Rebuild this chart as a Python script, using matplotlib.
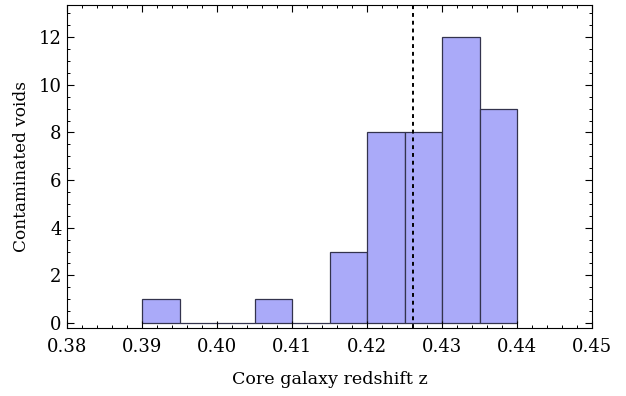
import matplotlib

matplotlib.use("Agg")
import matplotlib.pyplot as plt
from matplotlib.ticker import MultipleLocator


BIN_EDGES = [0.390, 0.395, 0.400, 0.405, 0.410, 0.415, 0.420, 0.425, 0.430, 0.435, 0.440]
COUNTS = [1, 0, 0, 1, 0, 3, 8, 8, 12, 9]
CORE_Z = 0.4261
X_TICKS = [0.38, 0.39, 0.40, 0.41, 0.42, 0.43, 0.44, 0.45]
Y_TICKS = [0, 2, 4, 6, 8, 10, 12]


def main():
    plt.rcParams["font.family"] = ["DejaVu Serif"]
    plt.rcParams["font.size"] = 13

    fig = plt.figure(figsize=(6.26, 3.96), dpi=100)
    ax = fig.add_axes([67 / 626, 68 / 396, 525 / 626, 323 / 396])

    widths = [b - a for a, b in zip(BIN_EDGES[:-1], BIN_EDGES[1:])]
    ax.bar(
        BIN_EDGES[:-1],
        COUNTS,
        width=widths,
        align="edge",
        color="#aaaaf9",
        edgecolor="#33334d",
        linewidth=0.9,
    )
    ax.axvline(CORE_Z, color="black", linestyle=(0, (2, 2)), linewidth=1.4)

    ax.set_xlim(0.38, 0.45)
    ax.set_ylim(-0.21, 13.35)
    ax.set_xticks(X_TICKS)
    ax.set_xticklabels([f"{t:.2f}" for t in X_TICKS])
    ax.set_yticks(Y_TICKS)
    ax.xaxis.set_minor_locator(MultipleLocator(0.002))
    ax.yaxis.set_minor_locator(MultipleLocator(0.5))
    ax.tick_params(which="both", direction="in", top=True, right=True)
    ax.tick_params(which="major", length=5, width=0.8, labelsize=13)
    ax.tick_params(axis="x", which="major", pad=7)
    ax.tick_params(axis="y", which="major", pad=4)
    ax.tick_params(which="minor", length=2.5, width=0.7)

    ax.set_xlabel("Core galaxy redshift z", fontsize=12.6, labelpad=11)
    ax.set_ylabel("Contaminated voids", fontsize=12.2, labelpad=6)

    fig.savefig("out.png", dpi=100)
    plt.close(fig)


if __name__ == "__main__":
    main()
